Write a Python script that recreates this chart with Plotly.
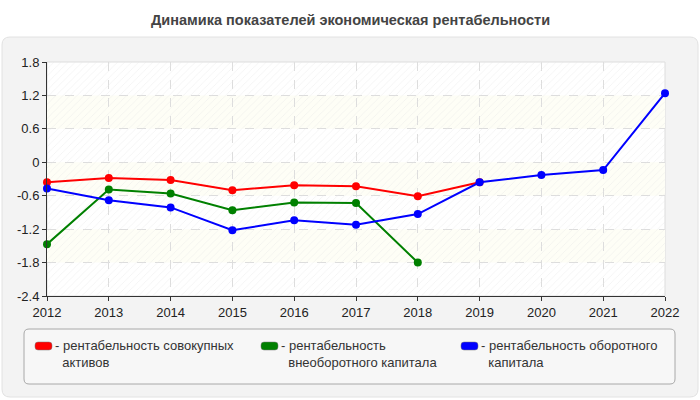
import plotly.graph_objects as go

years = [2012, 2013, 2014, 2015, 2016, 2017, 2018, 2019, 2020, 2021, 2022]
red_vals = [-0.36, -0.28, -0.32, -0.50, -0.41, -0.43, -0.61, -0.36, None, None, None]
green_vals = [-1.47, -0.49, -0.56, -0.86, -0.72, -0.73, -1.80, None, None, None, None]
blue_vals = [-0.47, -0.68, -0.81, -1.22, -1.04, -1.12, -0.93, -0.36, -0.23, -0.14, 1.24]
y_ticks = [-2.4, -1.8, -1.2, -0.6, 0, 0.6, 1.2, 1.8]
y_tick_text = ["-2.4", "-1.8", "-1.2", "-0.6", "0", "0.6", "1.2", "1.8"]
series_lines = [
    ["- рентабельность совокупных", "активов"],
    ["- рентабельность", "внеоборотного капитала"],
    ["- рентабельность оборотного", "капитала"],
]
series_colors = ["#ff0000", "#008000", "#0000ff"]
title_text = "Динамика показателей экономическая рентабельности"

W, H = 700, 400
L, R, T, B = 47, 665, 62, 296
FONT = "Liberation Sans, Arial, sans-serif"


def px(x):
    return (x - L) / (R - L)


def py(y):
    return (B - y) / (B - T)


fig = go.Figure()

x0, x1 = years[0], years[-1]
y0, y1 = y_ticks[0], y_ticks[-1]
fig.add_trace(go.Scatter(
    x=[x0, x1, x1, x0, x0], y=[y0, y0, y1, y1, y0],
    mode="lines", line=dict(width=0), fill="toself",
    fillcolor="rgba(0,0,0,0)",
    fillpattern=dict(shape="/", fgcolor="#e4e4e4", bgcolor="rgba(0,0,0,0)", size=5, solidity=0.15),
    hoverinfo="skip", showlegend=False,
))

for vals, color in zip([green_vals, red_vals, blue_vals], [series_colors[1], series_colors[0], series_colors[2]]):
    fig.add_trace(go.Scatter(
        x=years, y=vals, mode="lines+markers",
        line=dict(color=color, width=2),
        marker=dict(color=color, size=8),
        showlegend=False, cliponaxis=False,
    ))

shapes = []
ox0, ox1, oy0, oy1 = 2, 698, 37, 397


def rounded(xa, xb, ya, yb, rad):
    return (f"M {px(xa+rad)},{py(ya)} L {px(xb-rad)},{py(ya)} Q {px(xb)},{py(ya)} {px(xb)},{py(ya+rad)} "
            f"L {px(xb)},{py(yb-rad)} Q {px(xb)},{py(yb)} {px(xb-rad)},{py(yb)} "
            f"L {px(xa+rad)},{py(yb)} Q {px(xa)},{py(yb)} {px(xa)},{py(yb-rad)} "
            f"L {px(xa)},{py(ya+rad)} Q {px(xa)},{py(ya)} {px(xa+rad)},{py(ya)} Z")


shapes.append(dict(type="path", xref="paper", yref="paper", path=rounded(ox0, ox1, oy0, oy1, 8),
                   fillcolor="#f3f3f3", line=dict(color="#e2e2e2", width=1), layer="below"))
shapes.append(dict(type="rect", xref="paper", yref="paper", x0=0, x1=1, y0=0, y1=1,
                   fillcolor="#ffffff", line=dict(color="#dddddd", width=1), layer="below"))
for i in range(len(y_ticks) - 1):
    if i % 2 == 1:
        shapes.append(dict(type="rect", xref="paper", yref="y", x0=0, x1=1,
                           y0=y_ticks[i], y1=y_ticks[i + 1],
                           fillcolor="#fefef6", line=dict(width=0), layer="below"))
shapes.append(dict(type="path", xref="paper", yref="paper", path=rounded(24, 675, 329, 384, 5),
                   fillcolor="#f7f7f7", line=dict(color="#a8a8a8", width=1), layer="above"))

annotations = [dict(x=px(350), xref="paper", y=py(20), yref="paper", text="<b>" + title_text + "</b>",
                    showarrow=False, xanchor="center", yanchor="middle",
                    font=dict(family=FONT, size=14.5, color="#444444"))]

leg_x = [35, 261, 461]
for lines, color, lx in zip(series_lines, series_colors, leg_x):
    shapes.append(dict(type="path", xref="paper", yref="paper", path=rounded(lx, lx + 17, 342, 350, 3),
                       fillcolor=color, line=dict(color="#777777", width=0.5), layer="above"))
    txt = lines[0] + "<br>&nbsp;&nbsp;" + lines[1]
    annotations.append(dict(x=px(lx + 19), xref="paper", y=py(337), yref="paper",
                            text=txt, showarrow=False, xanchor="left", yanchor="top",
                            align="left", borderpad=0,
                            font=dict(family=FONT, size=13, color="#333333")))

fig.update_layout(
    width=W, height=H,
    margin=dict(l=L, r=W - R, t=T, b=H - B, pad=0),
    paper_bgcolor="#ffffff", plot_bgcolor="rgba(0,0,0,0)",
    shapes=shapes, annotations=annotations,
    showlegend=False,
    font=dict(family=FONT, size=13, color="#222222"),
    xaxis=dict(range=[x0, x1], tickmode="array", tickvals=years, ticktext=[str(y) for y in years],
               showgrid=True, gridcolor="#dddddd", griddash="dash", gridwidth=1,
               showline=True, linecolor="#333333", linewidth=1, ticks="outside", ticklen=4,
               tickcolor="#333333", zeroline=False, fixedrange=True),
    yaxis=dict(range=[y0, y1], tickmode="array", tickvals=y_ticks, ticktext=y_tick_text,
               showgrid=True, gridcolor="#dddddd", griddash="dash", gridwidth=1,
               showline=True, linecolor="#333333", linewidth=1, ticks="outside", ticklen=4,
               tickcolor="#333333", zeroline=False, fixedrange=True),
)

fig.write_html("out.html")
